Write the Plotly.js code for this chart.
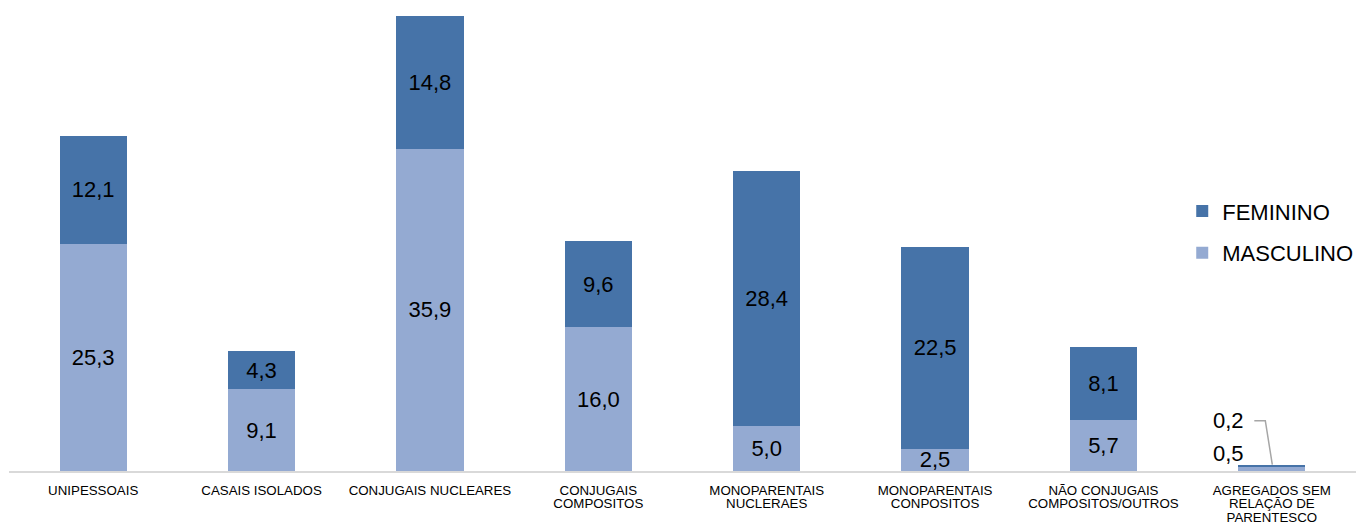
<!DOCTYPE html>
<html>
<head>
<meta charset="utf-8">
<script src="https://cdn.plot.ly/plotly-3.0.1.min.js"></script>
<style>html,body{margin:0;padding:0;background:#fff;}#chart{width:1364px;height:524px;}</style>
</head>
<body>
<div id="chart"></div>
<script>
const categories = [
  "UNIPESSOAIS",
  "CASAIS ISOLADOS",
  "CONJUGAIS NUCLEARES",
  "CONJUGAIS<br>COMPOSITOS",
  "MONOPARENTAIS<br>NUCLERAES",
  "MONOPARENTAIS<br>CONPOSITOS",
  "NÃO CONJUGAIS<br>COMPOSITOS/OUTROS",
  "AGREGADOS SEM<br>RELAÇÃO DE<br>PARENTESCO"
];
const masculino = [25.3, 9.1, 35.9, 16.0, 5.0, 2.5, 5.7, 0.5];
const feminino  = [12.1, 4.3, 14.8, 9.6, 28.4, 22.5, 8.1, 0.2];

const lastIdx = categories.length - 1;
const textPos = categories.map((c, i) => i === lastIdx ? 'none' : 'inside');
const FONT = 'Liberation Sans, Arial, sans-serif';

const common = {
  type: 'bar',
  x: categories,
  width: 0.4,
  texttemplate: '%{y:.1f}',
  textposition: textPos,
  insidetextanchor: 'middle',
  constraintext: 'none',
  textfont: {family: FONT, size: 22, color: '#000000'},
  hoverinfo: 'skip'
};

const traces = [
  Object.assign({}, common, {
    name: 'MASCULINO', y: masculino, legendgroup: 'm', legendrank: 2,
    marker: {color: '#94AAD2'}
  }),
  Object.assign({}, common, {
    name: 'FEMININO', y: feminino, legendgroup: 'f', legendrank: 1,
    marker: {color: '#4673A8'}
  })
];

const lastCat = categories[lastIdx];
const layout = {
  width: 1364, height: 524,
  margin: {l: 9, r: 6, t: 10, b: 53},
  paper_bgcolor: '#ffffff', plot_bgcolor: '#ffffff',
  separators: ',.',
  barmode: 'stack',
  showlegend: true,
  font: {family: FONT, color: '#000000'},
  legend: {
    x: 0.871, xanchor: 'left', y: 0.609, yanchor: 'top',
    font: {family: FONT, size: 22, color: '#000000'},
    traceorder: 'grouped', tracegroupgap: 10,
    bgcolor: 'rgba(0,0,0,0)'
  },
  xaxis: {
    type: 'category',
    showline: true, linecolor: '#D9D9D9', linewidth: 2,
    showgrid: false, zeroline: false, ticks: '',
    ticklabelstandoff: 6,
    tickfont: {family: FONT, size: 13.3, color: '#000000'},
    tickangle: 0, fixedrange: true
  },
  yaxis: {
    visible: false, range: [0, 51.39], fixedrange: true
  },
  annotations: [
    {x: lastCat, y: masculino[lastIdx], xref: 'x', yref: 'y',
     text: masculino[lastIdx].toFixed(1).replace('.', ','),
     showarrow: false, xshift: -43.5, yshift: 13.5,
     xanchor: 'center', yanchor: 'middle',
     font: {family: FONT, size: 22, color: '#000000'}},
    {x: lastCat, y: masculino[lastIdx] + feminino[lastIdx], xref: 'x', yref: 'y',
     text: feminino[lastIdx].toFixed(1).replace('.', ','),
     showarrow: false, xshift: -43.5, yshift: 44.7,
     xanchor: 'center', yanchor: 'middle',
     font: {family: FONT, size: 22, color: '#000000'}}
  ],
  shapes: [
    {type: 'path', xref: 'x', yref: 'y',
     xsizemode: 'pixel', ysizemode: 'pixel',
     xanchor: lastCat, yanchor: masculino[lastIdx] + feminino[lastIdx],
     path: 'M-17.5,44 L-6.5,44 L0.5,0',
     line: {color: '#A6A6A6', width: 1.5}}
  ]
};

Plotly.newPlot('chart', traces, layout, {displayModeBar: false, staticPlot: true}).then(function (gd) {
  // tighten tick-label line spacing to match the reference (about 1 em)
  gd.querySelectorAll('.xtick text tspan.line').forEach(function (t) {
    const dy = t.getAttribute('dy');
    if (dy && dy.indexOf('em') > 0) {
      const v = parseFloat(dy);
      t.setAttribute('dy', (v / 1.3 * 1.0) + 'em');
    }
  });
});
</script>
</body>
</html>
